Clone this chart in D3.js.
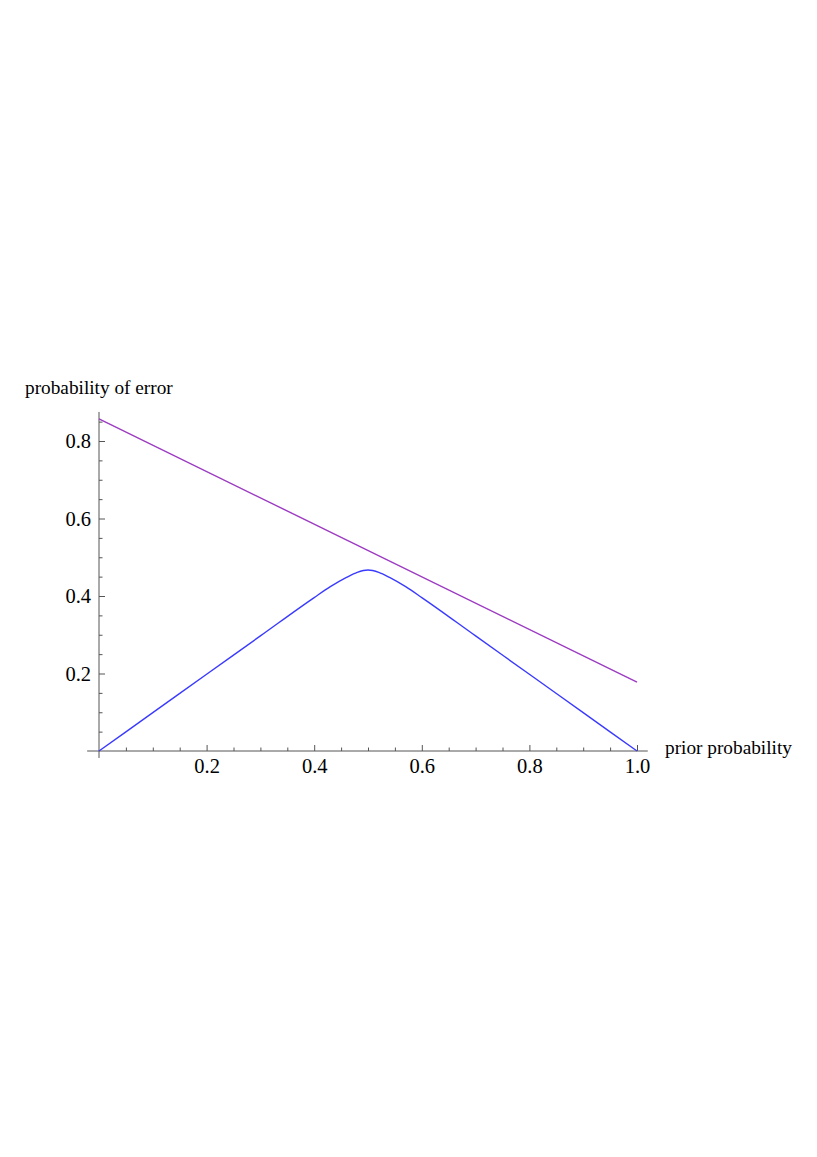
<!DOCTYPE html>
<html>
<head>
<meta charset="utf-8">
<script src="https://cdn.jsdelivr.net/npm/d3@7"></script>
<style>
  html, body { margin: 0; padding: 0; background: #fff; }
  svg { display: block; }
  text { font-family: "Liberation Serif", "Times New Roman", serif; font-size: 19px; fill: #000; }
</style>
</head>
<body>
<svg id="chart" width="817" height="1157"></svg>
<script>
// ---- data ----
const blueX = [0, 0.1, 0.2, 0.3, 0.4, 0.43, 0.46, 0.48, 0.5, 0.52, 0.54, 0.57, 0.6, 0.7, 0.8, 0.9, 1.0];
const blueY = [0, 0.099, 0.198, 0.297, 0.396, 0.424, 0.448, 0.461, 0.467, 0.461, 0.448, 0.424, 0.396, 0.297, 0.198, 0.099, 0];
const purpleX = [0, 1.0];
const purpleY = [0.857, 0.178];
const xTickLabels = ["0.2", "0.4", "0.6", "0.8", "1.0"];
const xTickValues = [0.2, 0.4, 0.6, 0.8, 1.0];
const yTickLabels = ["0.2", "0.4", "0.6", "0.8"];
const yTickValues = [0.2, 0.4, 0.6, 0.8];
const xLabel = "prior probability";
const yLabel = "probability of error";

// ---- layout ----
const svg = d3.select("#chart");
const x = d3.scaleLinear().domain([0, 1]).range([99, 637]);
const y = d3.scaleLinear().domain([0, 1]).range([751, 363.5]);
const axisColor = "#555";

// minor ticks
const xMinor = d3.range(0.05, 1.0001, 0.05).filter(v => !xTickValues.some(t => Math.abs(t - v) < 1e-6));
const yMinor = d3.range(0.05, 0.8501, 0.05).filter(v => !yTickValues.some(t => Math.abs(t - v) < 1e-6));

// x axis
const gx = svg.append("g").attr("transform", `translate(0,${y(0)})`);
gx.call(d3.axisBottom(x).tickValues(xTickValues).tickFormat((d, i) => xTickLabels[i]).tickSize(-6).tickSizeOuter(0).tickPadding(7));
gx.select(".domain").remove();
gx.selectAll(".tick line").attr("stroke", axisColor);
gx.selectAll(".tick text").attr("font-family", null).attr("font-size", null).style("font-size", "20.5px");
const gxm = svg.append("g").attr("transform", `translate(0,${y(0)})`);
gxm.call(d3.axisBottom(x).tickValues(xMinor).tickFormat("").tickSize(-3.5).tickSizeOuter(0));
gxm.select(".domain").remove();
gxm.selectAll(".tick line").attr("stroke", axisColor);
svg.append("line").attr("x1", x(-0.022)).attr("x2", x(1.02)).attr("y1", y(0)).attr("y2", y(0))
  .attr("stroke", axisColor).attr("stroke-width", 1);

// y axis
const gy = svg.append("g").attr("transform", `translate(${x(0)},0)`);
gy.call(d3.axisLeft(y).tickValues(yTickValues).tickFormat((d, i) => yTickLabels[i]).tickSize(-6).tickSizeOuter(0).tickPadding(8));
gy.select(".domain").remove();
gy.selectAll(".tick line").attr("stroke", axisColor);
gy.selectAll(".tick text").attr("font-family", null).attr("font-size", null).style("font-size", "20.5px");
const gym = svg.append("g").attr("transform", `translate(${x(0)},0)`);
gym.call(d3.axisLeft(y).tickValues(yMinor).tickFormat("").tickSize(-3.5).tickSizeOuter(0));
gym.select(".domain").remove();
gym.selectAll(".tick line").attr("stroke", axisColor);
svg.append("line").attr("x1", x(0)).attr("x2", x(0)).attr("y1", y(-0.018)).attr("y2", y(0.875))
  .attr("stroke", axisColor).attr("stroke-width", 1);

// curves
const line = d3.line().x(d => x(d[0])).y(d => y(d[1]));
svg.append("path").datum(purpleX.map((v, i) => [v, purpleY[i]]))
  .attr("d", line).attr("fill", "none").attr("stroke", "#9c3ac2").attr("stroke-width", 1.4);
svg.append("path").datum(blueX.map((v, i) => [v, blueY[i]]))
  .attr("d", line.curve(d3.curveMonotoneX)).attr("fill", "none").attr("stroke", "#3a3aff").attr("stroke-width", 1.4);

// axis labels
svg.append("text").attr("x", 25).attr("y", 394).style("font-size", "19.3px").text(yLabel);
svg.append("text").attr("x", 665).attr("y", 754).style("font-size", "19.3px").text(xLabel);
</script>
</body>
</html>
